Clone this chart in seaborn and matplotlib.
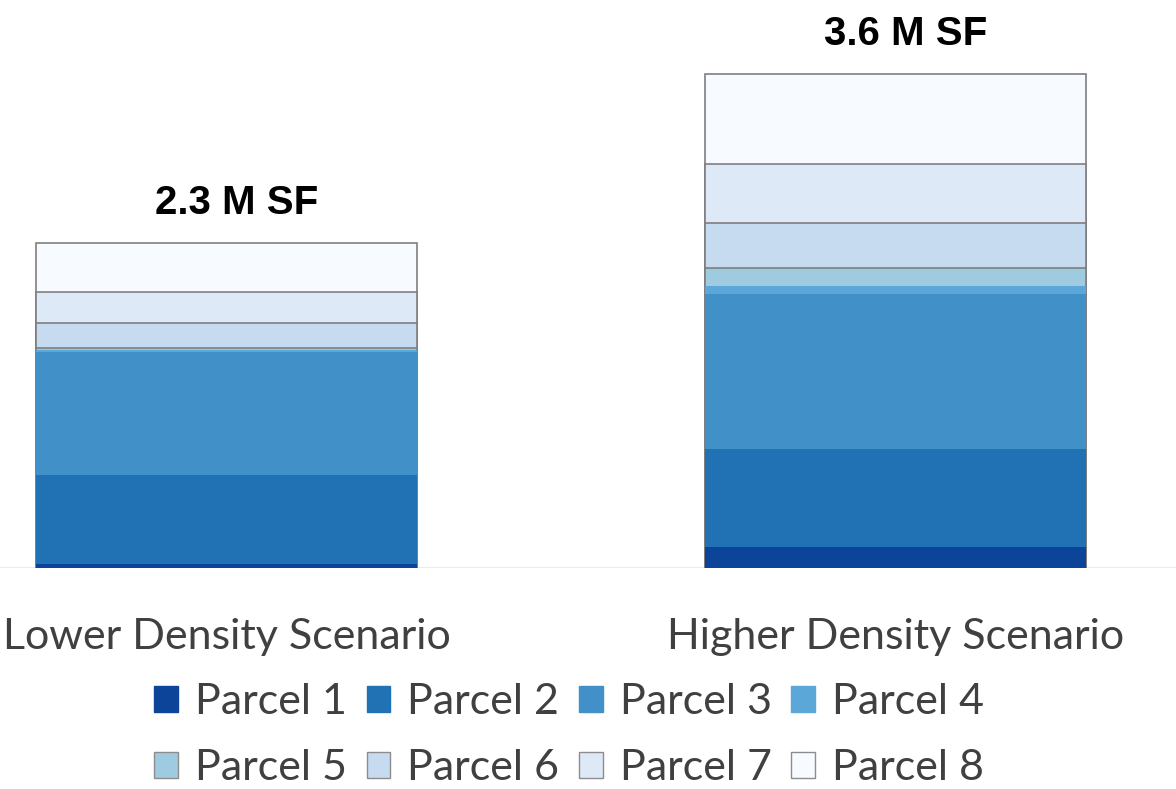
import numpy as np
import pandas as pd
import matplotlib
matplotlib.use("Agg")
import matplotlib.pyplot as plt
from matplotlib.patches import Patch
import seaborn as sns

# data (thousand SF)
scenarios = ["Lower Density Scenario", "Higher Density Scenario"]
parcels = ["Parcel 1", "Parcel 2", "Parcel 3", "Parcel 4",
           "Parcel 5", "Parcel 6", "Parcel 7", "Parcel 8"]
lower_sf = [29, 649, 897, 15, 15, 182, 226, 357]
higher_sf = [153, 714, 1130, 58, 131, 328, 430, 656]
total_labels = ["2.3 M SF", "3.6 M SF"]

colors = ["#0c4499", "#2171b5", "#4191c8", "#5aa7d8",
          "#9fcbe1", "#c6dbef", "#dde9f6", "#f7fbff"]
outlined = [False, False, False, False, True, True, True, True]

sns.set_style("white")
plt.rcParams["font.family"] = ["Lato", "DejaVu Sans"]

df = pd.DataFrame({"parcel": np.repeat(parcels, 2),
                   "scenario": scenarios * len(parcels),
                   "sf": np.ravel(np.column_stack([lower_sf, higher_sf]))})
df["cum"] = df.groupby("scenario", sort=False)["sf"].cumsum()

fig = plt.figure(figsize=(11.76, 7.89), dpi=100)
ax = fig.add_axes([0, 0.2801, 1, 0.7199])

ax.axhline(0, color="#ececec", lw=1.5, zorder=0)

# stacked look: draw cumulative totals from the top parcel down
for i in range(len(parcels) - 1, -1, -1):
    sub = df[df["parcel"] == parcels[i]]
    sns.barplot(data=sub, x="scenario", y="cum", order=scenarios,
                color=colors[i], saturation=1, width=0.5695,
                edgecolor="#7f7f7f" if outlined[i] else colors[i],
                linewidth=1.2 if outlined[i] else 0, ax=ax, zorder=2)

tops = df.groupby("scenario", sort=False)["cum"].max()
for j, s in enumerate(scenarios):
    ax.annotate(total_labels[j], (j, tops[s]), xytext=(7, 21),
                textcoords="offset points", ha="center", va="baseline",
                fontsize=29, fontweight="bold", color="black",
                family=["Liberation Sans", "DejaVu Sans"])

ax.set_xlim(-0.3386, 1.4193)
ax.set_ylim(0, 4139)
ax.set_xlabel("")
ax.set_ylabel("")
ax.set_yticks([])
ax.set_xticks([0, 1])
ax.set_xticklabels(scenarios, fontsize=31, color="#404040")
ax.tick_params(axis="x", length=0, pad=36)
sns.despine(ax=ax, left=True, bottom=True)

# legend is filled column by column, so interleave to read row-wise
order = [0, 4, 1, 5, 2, 6, 3, 7]
handles = [Patch(facecolor=colors[k],
                 edgecolor="#8c8c8c" if outlined[k] else colors[k], lw=1)
           for k in order]
fig.legend(handles, [parcels[k] for k in order], ncol=4, loc="center",
           bbox_to_anchor=(0.484, 0.068), frameon=False, fontsize=31,
           labelcolor="#404040", handlelength=0.55, handleheight=0.55,
           handletextpad=0.4, columnspacing=0.45, labelspacing=0.65)

fig.savefig("out.png", dpi=100, facecolor="white")
